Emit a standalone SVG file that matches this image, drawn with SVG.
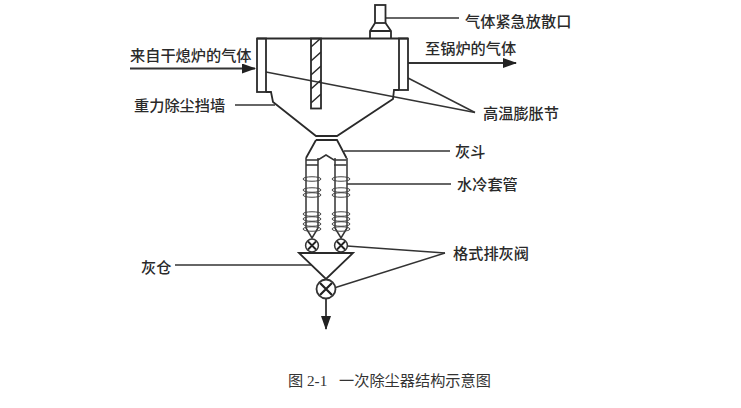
<svg xmlns="http://www.w3.org/2000/svg" width="741" height="408" viewBox="0 0 741 408">
<style>
.l{font-family:"Noto Sans CJK SC","Liberation Sans",sans-serif;font-size:15.2px;font-weight:500;fill:#2a2a2a}
.c{font-family:"Liberation Serif","Noto Sans CJK SC",serif;font-size:15.2px;fill:#333}
.s{fill:none;stroke:#333;stroke-width:1.5}
.t{fill:none;stroke:#2a2a2a;stroke-width:1.8}
.coil{fill:none;stroke:#444;stroke-width:1}
</style>
<defs>
<marker id="a" markerUnits="userSpaceOnUse" markerWidth="14" markerHeight="10" refX="13" refY="5" orient="auto"><path d="M0 0L14 5L0 10Z" fill="#222"/></marker>
<marker id="d" markerUnits="userSpaceOnUse" markerWidth="14" markerHeight="10" refX="13" refY="5" orient="auto"><path d="M0 0L14 5L0 10Z" fill="#222"/></marker>
<g id="cv"><circle r="6.400" fill="#fff" stroke="#333" stroke-width="1.500"/><path d="M-4 -4L4 4M4 -4L-4 4" stroke="#222" stroke-width="1.800"/></g>
<g id="tube">
<path class="s" d="M-6 0V70L0 80L6 70V0"/>
<path class="coil" d="M-9 21C-9 18 9 18 9 21C9 24 -9 24 -9 21Z"/>
<path class="coil" d="M-9 32C-9 29 9 29 9 32C9 35 -9 35 -9 32ZM-9 37C-9 34 9 34 9 37C9 40 -9 40 -9 37Z"/>
<path class="coil" d="M-9 56C-9 53 9 53 9 56C9 59 -9 59 -9 56ZM-9 61C-9 58 9 58 9 61C9 64 -9 64 -9 61ZM-9 66C-9 63 9 63 9 66C9 69 -9 69 -9 66ZM-9 71C-9 68 9 68 9 71C9 74 -9 74 -9 71Z"/>
</g>
<pattern id="h" patternUnits="userSpaceOnUse" x="311" y="38" width="10" height="14"><path d="M0 9L10 0M0 23L10 14" stroke="#2a2a2a" stroke-width="1.400"/></pattern>
</defs>
<g id="connectors" class="s">
<path marker-end="url(#a)" stroke-width="1.800" d="M130 68.500H255"/>
<path marker-end="url(#a)" stroke-width="1.800" d="M408 63H516"/>
<path d="M386 18H459"/>
<path d="M266 72L475 112.500"/>
<path d="M408 78L475 112.500"/>
<path d="M235 105H275"/>
<path d="M344 151H450"/>
<path d="M347 184H451"/>
<path d="M347 246L445 253"/>
<path d="M334 288L445 253"/>
<path d="M175 265H311"/>
<path marker-end="url(#d)" stroke-width="1.800" d="M326 299V329"/>
</g>
<g id="vent">
<rect class="t" x="375" y="5" width="10.500" height="18"/>
<path class="t" d="M375 23L370 31V38.500M385.500 23L391 31V38.500M370 31H391"/>
</g>
<g id="chamber">
<path class="t" d="M257 38.500H408"/>
<path class="t" d="M266 92H271L273 102L316 136H337L393 99L394 90H399"/>
<rect class="t" x="257" y="38.500" width="9" height="53.500"/>
<rect class="t" x="399" y="38.500" width="9" height="51.500"/>
</g>
<g id="baffle"><rect x="311" y="38.500" width="10" height="70" fill="url(#h)" stroke="#2a2a2a" stroke-width="1.800"/></g>
<g id="hopper">
<path class="t" d="M316 140H337L346.500 158M316 140L306 158"/>
<path class="s" d="M306 160H318L326 155L334 160H346.500M306 165H318M334 165H346.500"/>
</g>
<g id="tube-left"><use href="#tube" x="312" y="158"/></g>
<g id="tube-right"><use href="#tube" x="341" y="158"/></g>
<g id="valve-left"><use href="#cv" x="312" y="245.500"/></g>
<g id="valve-right"><use href="#cv" x="341" y="245.500"/></g>
<g id="ash-bin"><path class="t" d="M299 253H353L326 279Z"/></g>
<g id="valve-main"><circle cx="326" cy="289" r="9.500" fill="#fff" stroke="#333" stroke-width="1.800"/><path d="M320 283L332 295M332 283L320 295" stroke="#222" stroke-width="2.200"/></g>
<g id="labels">
<text class="l" x="130" y="60.500">来自干熄炉的气体</text>
<text class="l" x="465" y="27">气体紧急放散口</text>
<text class="l" x="425" y="53.500">至锅炉的气体</text>
<text class="l" x="134" y="110.500">重力除尘挡墙</text>
<text class="l" x="483" y="118.500">高温膨胀节</text>
<text class="l" x="455" y="156.500">灰斗</text>
<text class="l" x="457" y="189.500">水冷套管</text>
<text class="l" x="453" y="258.500">格式排灰阀</text>
<text class="l" x="141" y="273">灰仓</text>
<text class="c" x="288" y="386">图</text>
<text class="c" x="307" y="386">2-1</text>
<text class="c" x="339" y="386">一次除尘器结构示意图</text>
</g>
</svg>
